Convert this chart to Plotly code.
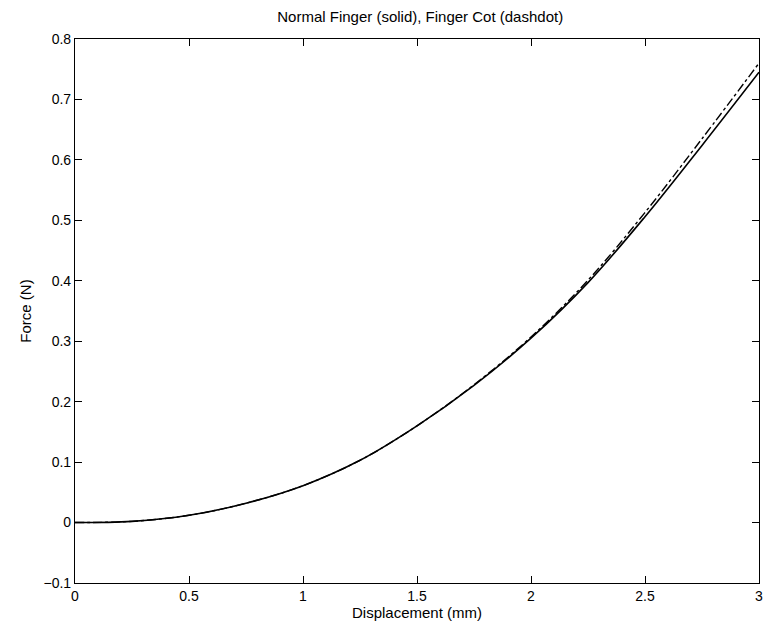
import plotly.graph_objects as go

displacement = [0, 0.25, 0.5, 0.75, 1.0, 1.25, 1.5, 1.75, 2.0, 2.25, 2.5, 2.75, 3.0]
force_normal = [0, 0.002, 0.012, 0.032, 0.061, 0.103, 0.160, 0.227, 0.305, 0.397, 0.506, 0.624, 0.745]
force_cot = [0, 0.002, 0.012, 0.032, 0.061, 0.103, 0.160, 0.228, 0.307, 0.401, 0.513, 0.635, 0.760]

x_ticks = [0, 0.5, 1, 1.5, 2, 2.5, 3]
x_labels = ["0", "0.5", "1", "1.5", "2", "2.5", "3"]
y_ticks = [-0.1, 0, 0.1, 0.2, 0.3, 0.4, 0.5, 0.6, 0.7, 0.8]
y_labels = ["\u22120.1", "0", "0.1", "0.2", "0.3", "0.4", "0.5", "0.6", "0.7", "0.8"]

fig = go.Figure()
fig.add_trace(go.Scatter(x=displacement, y=force_normal, mode="lines",
                         line=dict(color="black", width=1.6, shape="spline", smoothing=1.0), name="Normal Finger"))
fig.add_trace(go.Scatter(x=displacement, y=force_cot, mode="lines",
                         line=dict(color="black", width=1.4, dash="dashdot", shape="spline", smoothing=1.0),
                         name="Finger Cot"))

font = "Liberation Sans, Arial, Helvetica, sans-serif"
axis_common = dict(showgrid=False, zeroline=False, showline=True, linecolor="black", linewidth=1.2,
                   mirror="ticks", ticks="inside", ticklen=7, tickcolor="black",
                   tickfont=dict(family=font, size=14, color="black"))

fig.update_layout(
    width=771, height=630,
    margin=dict(l=75, r=8, t=39, b=47),
    paper_bgcolor="white", plot_bgcolor="white",
    showlegend=False,
    title=dict(text="Normal Finger (solid), Finger Cot (dashdot)", x=0.545, xanchor="center",
               y=1 - 17 / 630, yanchor="middle",
               font=dict(family=font, size=15, color="black")),
    xaxis=dict(range=[0, 3], tickvals=x_ticks, ticktext=x_labels,
               title=dict(text="Displacement (mm)", standoff=4, font=dict(family=font, size=15, color="black")),
               **axis_common),
    yaxis=dict(range=[-0.1, 0.8], tickvals=y_ticks, ticktext=y_labels,
               title=dict(text="Force (N)", standoff=8, font=dict(family=font, size=15, color="black")),
               **axis_common),
)

fig.write_html("out.html")
